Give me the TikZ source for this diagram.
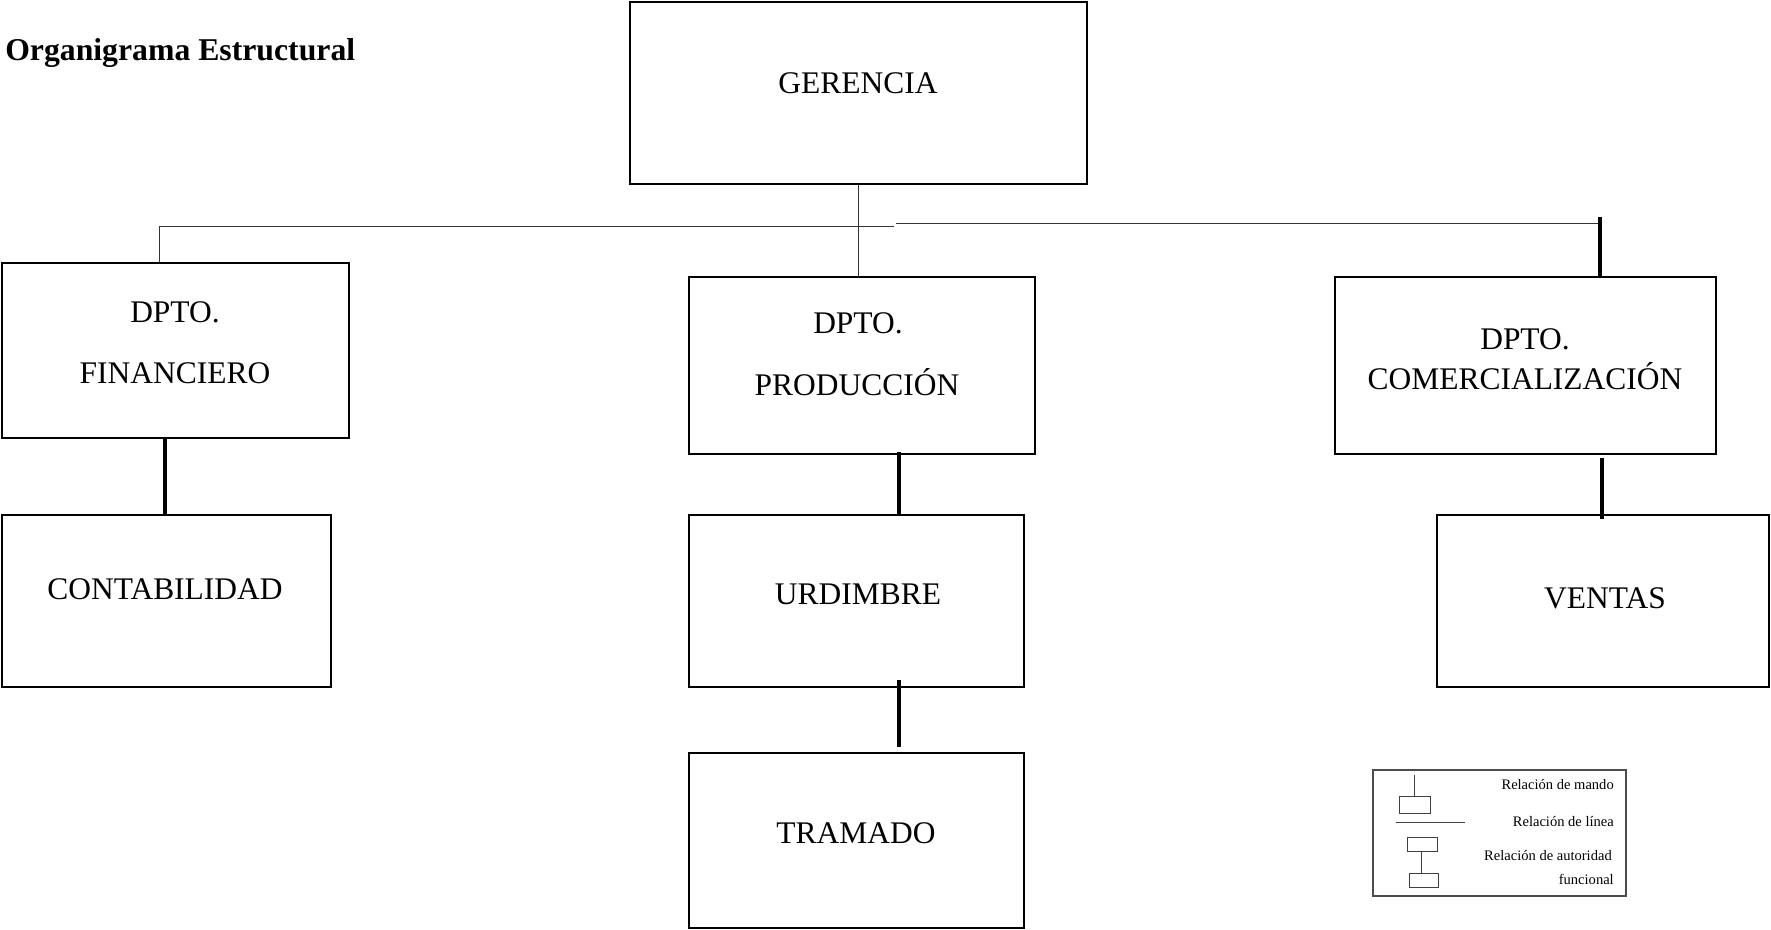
\documentclass[tikz,border=0pt]{standalone}
\usepackage{fontspec}
\setmainfont{Liberation Serif}
\usetikzlibrary{fit}
\begin{document}
\begin{tikzpicture}[x=0.75pt,y=-0.75pt,
  box/.style={draw=black,line width=1.7pt,inner sep=0pt,rectangle},
  lbl/.style={anchor=base,font=\fontsize{23.6}{28}\selectfont,inner sep=0pt},
  thinline/.style={draw=black!80,line width=0.75pt},
  mando/.style={draw=black,line width=3.2pt},
  legtxt/.style={anchor=base east,font=\fontsize{10.9}{13}\selectfont,inner sep=0pt},
  legbox/.style={draw=black!75,line width=0.6pt,inner sep=0pt,rectangle}]
\useasboundingbox (0,0) rectangle (1771,930);

% title
\node[anchor=base west,inner sep=0pt,font=\fontsize{23.8}{28}\selectfont\bfseries] (title) at (5,61) {Organigrama Estructural};

% boxes
\node[box,fit={(630,2) (1087,184)}] (ger) {};
\node[box,fit={(2,263) (349,438)}] (fin) {};
\node[box,fit={(689,277) (1035,454)}] (prod) {};
\node[box,fit={(1335,277) (1716,454)}] (com) {};
\node[box,fit={(2,515) (331,687)}] (cont) {};
\node[box,fit={(689,515) (1024,687)}] (urd) {};
\node[box,fit={(1437,515) (1769,687)}] (ven) {};
\node[box,fit={(689,753) (1024,928)}] (tram) {};

% labels
\node[lbl] (gerT) at (858,94) {GERENCIA};
\node[lbl] (finA) at (175,323) {DPTO.};
\node[lbl] (finB) at (175,384) {FINANCIERO};
\node[lbl] (prodA) at (858,334) {DPTO.};
\node[lbl] (prodB) at (857,396) {PRODUCCIÓN};
\node[lbl] (comA) at (1525,350) {DPTO.};
\node[lbl] (comB) at (1525,390) {COMERCIALIZACIÓN};
\node[lbl] (contT) at (165,599) {CONTABILIDAD};
\node[lbl] (urdT) at (858,604) {URDIMBRE};
\node[lbl] (venT) at (1605,608) {VENTAS};
\node[lbl] (tramT) at (856,843) {TRAMADO};

% junction points of the line relations
\coordinate (jl) at (894,227);
\coordinate (fl) at (159,227);
\coordinate (jr) at (896,224);
\coordinate (cr) at (1600,224);
\coordinate (crTop) at (1600,217);

% line relations
\draw[thinline] (ger.south -| 858,0) -- (prod.north -| 858,0);
\draw[thinline] (jl) -- (fl) -- (fin.north -| fl);
\draw[thinline] (jr) -- (cr);

% command relations
\draw[mando] (crTop) -- (com.north -| crTop);
\draw[mando] (fin.south -| 165,0) -- (cont.north -| 165,0);
\draw[mando] ([yshift=2.25pt]prod.south -| 899,0) -- (urd.north -| 899,0);
\draw[mando] ([yshift=6pt]urd.south -| 899,0) -- ([yshift=3.75pt]tram.north -| 899,0);
\draw[mando] ([yshift=-2.25pt]com.south -| 1602,0) -- ([yshift=-3.75pt]ven.north -| 1602,0);

% legend
\node[draw=black!70,line width=0.8pt,inner sep=0pt,fit={(1373,770) (1626,896)}] (leg) {};
\node[legbox,fit={(1399,796) (1430,813)}] (lb1) {};
\node[legbox,fit={(1407,837) (1437,851)}] (lb2) {};
\node[legbox,fit={(1409,873) (1438,887)}] (lb3) {};
\coordinate (lm) at (1414,775);
\coordinate (ll1) at (1396,822);
\coordinate (ll2) at (1465,822);
\draw[black!75,line width=0.6pt] (lm) -- (lb1.north -| lm);
\draw[black!75,line width=0.6pt] (ll1) -- (ll2);
\draw[black!75,line width=0.6pt] (lb2.south -| 1421,0) -- (lb3.north -| 1421,0);
\node[legtxt] (t1) at (1614,789) {Relación de mando};
\node[legtxt] (t2) at (1614,826) {Relación de línea};
\node[legtxt] (t3) at (1612,860) {Relación de autoridad};
\node[legtxt] (t4) at (1614,884) {funcional};
\end{tikzpicture}
\end{document}
